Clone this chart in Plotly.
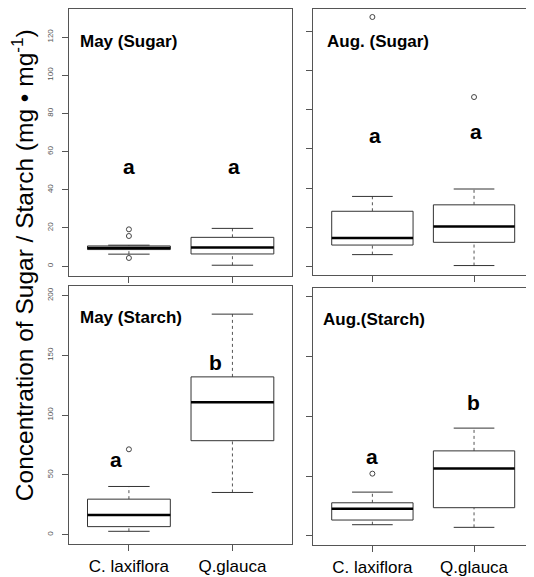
import plotly.graph_objects as go

# ---------------- data ----------------
groups = ["C. laxiflora", "Q.glauca"]
panels = ["May (Sugar)", "Aug. (Sugar)", "May (Starch)", "Aug.(Starch)"]

# per panel: [C. laxiflora, Q.glauca]
whisk_low = [[6.3, 0.5], [5.9, 0.3], [2.8, 35.3], [9.4, 7.2]]
q1 = [[8.7, 6.4], [10.8, 12.2], [6.7, 78.6], [13.3, 23.6]]
median = [[9.5, 9.8], [14.4, 20.3], [16.4, 110.8], [22.7, 56.3]]
q3 = [[10.6, 15.1], [28.1, 31.4], [29.7, 132.0], [27.7, 71.0]]
whisk_high = [[11.0, 19.8], [35.7, 39.5], [40.3, 184.5], [36.6, 90.0]]
outliers = [[[19.3, 15.8, 4.3], []], [[127.6], [86.6]], [[71.4], []], [[52.0], []]]

letters = [["a", "a"], ["a", "a"], ["a", "b"], ["a", "b"]]
letter_x = [[1.0, 2.02], [1.03, 2.02], [0.88, 1.84], [1.0, 1.99]]
letter_y = [[52, 52], [67, 69], [62.5, 144], [66, 111]]

y_ranges = [[-5.2, 134.7], [-4.6, 131.7], [-8, 208], [-7.7, 206.9]]
y_ticks = [[0, 20, 40, 60, 80, 100, 120], [0, 20, 40, 60, 80, 100, 120],
           [0, 50, 100, 150, 200], [0, 50, 100, 150, 200]]

y_title = "Concentration of Sugar / Starch (mg \u2022 mg<sup>-1</sup>)"

# ---------------- layout geometry ----------------
# the page body adds an 8px margin, so the figure is drawn 8px smaller
W, H = 526, 569
x_doms = [[61 / W, 285 / W], [306 / W, 1.0], [61 / W, 285 / W], [306 / W, 1.0]]
y_doms = [[1 - 269 / H, 1.0], [1 - 268 / H, 1.0],
          [1 - 539 / H, 1 - 279 / H], [1 - 540 / H, 1 - 281 / H]]
title_x = [0.04, 0.055, 0.04, 0.036]

SANS = "Liberation Sans, Arial"
LINE = "#333333"

fig = go.Figure()
bw = 0.4  # half box width (boxwex 0.8)
cw = 0.2  # half staple width

annotations = []
for p in range(4):
    ax = "" if p == 0 else str(p + 1)
    xr, yr = "x" + ax, "y" + ax
    for g in range(2):
        c = g + 1
        # whiskers (dashed)
        fig.add_trace(go.Scatter(
            x=[c, c, None, c, c], y=[whisk_low[p][g], q1[p][g], None, q3[p][g], whisk_high[p][g]],
            mode="lines", line=dict(color="#555555", width=1, dash="3px,3px"),
            xaxis=xr, yaxis=yr, showlegend=False, hoverinfo="skip"))
        # staples
        fig.add_trace(go.Scatter(
            x=[c - cw, c + cw, None, c - cw, c + cw],
            y=[whisk_low[p][g], whisk_low[p][g], None, whisk_high[p][g], whisk_high[p][g]],
            mode="lines", line=dict(color=LINE, width=1),
            xaxis=xr, yaxis=yr, showlegend=False, hoverinfo="skip"))
        # box
        fig.add_trace(go.Scatter(
            x=[c - bw, c + bw, c + bw, c - bw, c - bw],
            y=[q1[p][g], q1[p][g], q3[p][g], q3[p][g], q1[p][g]],
            mode="lines", fill="toself", fillcolor="white",
            line=dict(color=LINE, width=1),
            xaxis=xr, yaxis=yr, showlegend=False, hoverinfo="skip"))
        # median
        fig.add_trace(go.Scatter(
            x=[c - bw, c + bw], y=[median[p][g], median[p][g]],
            mode="lines", line=dict(color="black", width=2.6),
            xaxis=xr, yaxis=yr, showlegend=False, hoverinfo="skip"))
        # outliers
        if outliers[p][g]:
            fig.add_trace(go.Scatter(
                x=[c] * len(outliers[p][g]), y=outliers[p][g], mode="markers",
                marker=dict(symbol="circle-open", size=5, color="#444444", line=dict(width=1)),
                xaxis=xr, yaxis=yr, showlegend=False, hoverinfo="skip"))
        # significance letters
        annotations.append(dict(
            x=letter_x[p][g], y=letter_y[p][g], xref=xr, yref=yr,
            text="<b>%s</b>" % letters[p][g],
            showarrow=False, font=dict(family=SANS, size=21, color="black")))
    # panel title
    annotations.append(dict(
        x=title_x[p], y=0.878, xref=xr + " domain", yref=yr + " domain",
        text="<b>%s</b>" % panels[p],
        showarrow=False, xanchor="left", yanchor="middle",
        font=dict(family=SANS, size=17, color="black")))

annotations.append(dict(
    x=14 / W, y=1 - 258 / H, xref="paper", yref="paper", text=y_title, textangle=-90,
    xanchor="center", yanchor="middle",
    showarrow=False, font=dict(family=SANS, size=24.5, color="black")))

layout = dict(
    width=W, height=H, margin=dict(l=0, r=0, t=0, b=0),
    paper_bgcolor="white", plot_bgcolor="white",
    annotations=annotations,
)
for p in range(4):
    key = "" if p == 0 else str(p + 1)
    bottom = p >= 2
    left = p % 2 == 0
    layout["xaxis" + key] = dict(
        domain=x_doms[p], range=[0.42, 2.58], anchor="y" + key,
        tickmode="array", tickvals=[1, 2], ticktext=groups, showticklabels=bottom,
        ticks="outside", ticklen=6, tickcolor="#555555",
        showline=True, mirror=True, linecolor="#555555", linewidth=1,
        showgrid=False, zeroline=False,
        tickfont=dict(family=SANS, size=17, color="black"))
    layout["yaxis" + key] = dict(
        domain=y_doms[p], range=y_ranges[p], anchor="x" + key,
        tickmode="array", tickvals=y_ticks[p], showticklabels=left,
        ticks="outside", ticklen=6, tickcolor="#555555", tickangle=-90,
        ticklabelstandoff=6,
        showline=True, mirror=True, linecolor="#555555", linewidth=1,
        showgrid=False, zeroline=False,
        tickfont=dict(family=SANS, size=8, color="#555555"))

fig.update_layout(**layout)
fig.write_html("out.html")
